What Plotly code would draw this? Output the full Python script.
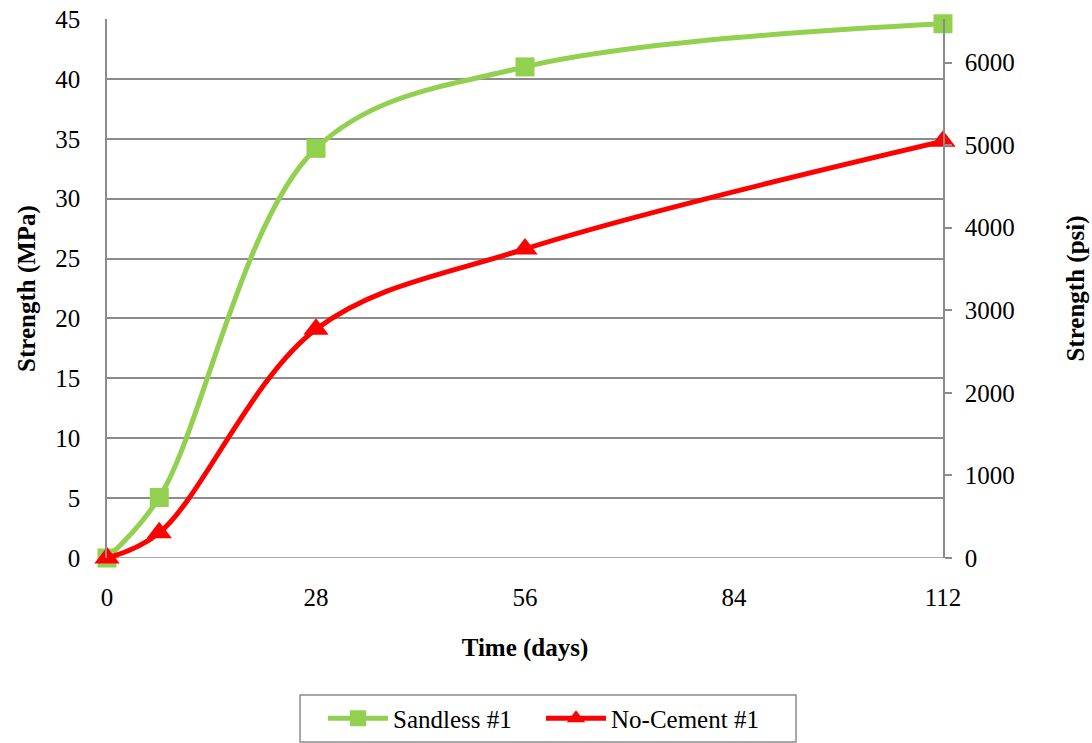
import plotly.graph_objects as go

# Curing time (days)
days = [0, 7, 28, 56, 112]
# Compressive strength (MPa)
sandless_mpa = [0, 5.05, 34.2, 41.0, 44.6]
no_cement_mpa = [0, 2.1, 19.1, 25.8, 34.8]

x_ticks = [0, 28, 56, 84, 112]
mpa_ticks = [0, 5, 10, 15, 20, 25, 30, 35, 40, 45]
psi_ticks = [0, 1000, 2000, 3000, 4000, 5000, 6000]

MPA_TO_PSI = 145.0377
MPA_MAX = 45

GRID = "#8c8c8c"
FONT = "Liberation Serif"
TICKFONT = dict(family=FONT, size=25, color="black")
TITLEFONT = dict(family=FONT, size=25, color="black")

fig = go.Figure()

fig.add_trace(go.Scatter(
    x=days, y=sandless_mpa, name="Sandless #1",
    mode="lines+markers",
    line=dict(color="#92D050", width=5, shape="spline", smoothing=1.0),
    marker=dict(symbol="square", size=19, color="#92D050"),
    cliponaxis=False,
))
fig.add_trace(go.Scatter(
    x=days, y=no_cement_mpa, name="No-Cement #1",
    mode="lines+markers",
    line=dict(color="#FF0000", width=5, shape="spline", smoothing=1.0),
    marker=dict(symbol="triangle-up", size=22, color="#FF0000"),
    cliponaxis=False,
))
# Invisible trace to carry the secondary (psi) axis
fig.add_trace(go.Scatter(
    x=[0, 112], y=[0, MPA_MAX * MPA_TO_PSI], yaxis="y2",
    mode="markers", marker=dict(opacity=0), showlegend=False, hoverinfo="skip",
))

fig.update_layout(
    width=1092, height=743,
    margin=dict(l=107, r=149, t=19, b=185, autoexpand=False),
    paper_bgcolor="white", plot_bgcolor="white",
    font=dict(family=FONT, size=25, color="black"),
    xaxis=dict(
        range=[0, 112], tickvals=x_ticks, ticktext=[str(v) for v in x_ticks],
        showgrid=False, zeroline=False, showline=False, ticks="",
        tickfont=TICKFONT, ticklabelstandoff=22, automargin=False,
        title=dict(text="<b>Time (days)</b>", font=TITLEFONT, standoff=28),
    ),
    yaxis=dict(
        range=[0, MPA_MAX], tickvals=mpa_ticks,
        showgrid=True, gridcolor=GRID, gridwidth=1.5,
        zeroline=False, showline=True, linecolor=GRID, linewidth=1.5,
        ticks="", tickfont=TICKFONT, ticklabelstandoff=20, automargin=False,
        title=dict(text="<b>Strength (MPa)</b>", font=TITLEFONT, standoff=13),
    ),
    yaxis2=dict(
        overlaying="y", side="right",
        range=[0, MPA_MAX * MPA_TO_PSI], tickvals=psi_ticks,
        showgrid=False, zeroline=False,
        showline=True, linecolor=GRID, linewidth=1.5,
        ticks="outside", ticklen=7, tickcolor=GRID, tickwidth=1.5,
        tickfont=TICKFONT, ticklabelstandoff=8, automargin=False,
        title=dict(text="<b>Strength (psi)</b>", font=TITLEFONT, standoff=53),
    ),
    legend=dict(
        orientation="h", xref="container", yref="container",
        x=0.2958, xanchor="left", y=0.002, yanchor="bottom",
        borderwidth=0, bgcolor="rgba(0,0,0,0)",
        font=dict(family=FONT, size=25, color="black"),
        itemwidth=60, entrywidth=143, entrywidthmode="pixels",
    ),
    showlegend=True,
)

# Horizontal line at 0 along the bottom of the plot area
fig.add_shape(type="line", xref="paper", yref="y", x0=0, x1=1, y0=0, y1=0,
              line=dict(color=GRID, width=1.5), layer="below")
# Frame around the legend
fig.add_shape(type="rect", xref="paper", yref="paper",
              x0=0.2309, x1=0.8242, y0=-0.2542, y1=-0.3414,
              line=dict(color=GRID, width=1.5), fillcolor="rgba(0,0,0,0)")

fig.write_html("out.html")
